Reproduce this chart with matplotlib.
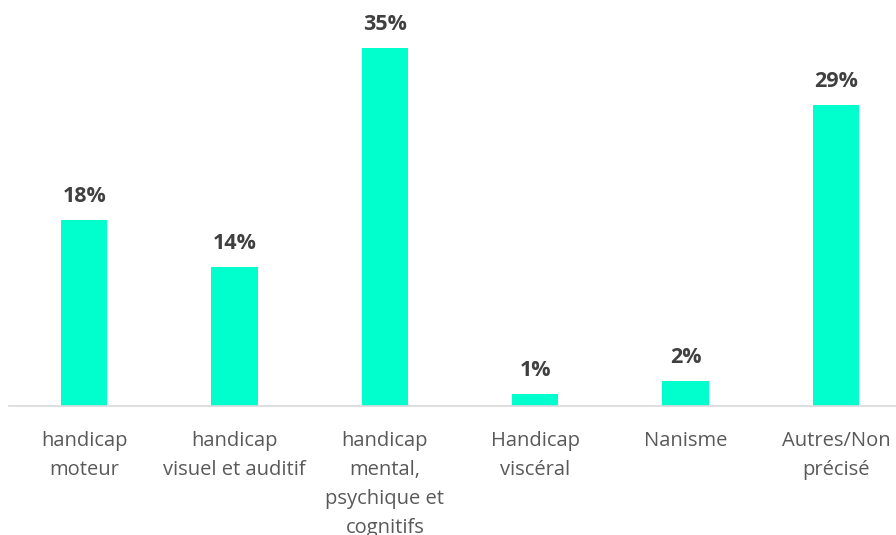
import numpy as np
import matplotlib.pyplot as plt

categories = ['handicap\nmoteur', 'handicap\nvisuel et auditif',
              'handicap\nmental,\npsychique et\ncognitifs', 'Handicap\nviscéral',
              'Nanisme', 'Autres/Non\nprécisé']
values = [18.2, 13.6, 35.0, 1.2, 2.4, 29.4]
labels = ['18%', '14%', '35%', '1%', '2%', '29%']

plt.rcParams['font.family'] = ['Open Sans', 'DejaVu Sans']

fig = plt.figure(figsize=(8.96, 5.35), dpi=100)
# chart area runs a bit past the right edge, as in the original
ax = fig.add_axes([9 / 896, 1 - 406 / 535, 902 / 896, 406 / 535])

xs = np.arange(len(categories))
bars = ax.bar(xs, values, width=0.31, color='#00FFCC', zorder=2)

for b, lab in zip(bars, labels):
    ax.annotate(lab, (b.get_x() + b.get_width() / 2, b.get_height()),
                xytext=(0, 9.5), textcoords='offset points',
                ha='center', va='bottom', fontsize=15.5,
                fontweight='bold', color='#404040')

ax.set_xlim(-0.5, len(categories) - 0.5)
ax.set_ylim(0, 39.7)
ax.set_yticks([])
ax.set_xticks(xs)
ax.set_xticklabels(categories, fontsize=14.5, color='#595959', linespacing=1.6)
ax.tick_params(axis='x', length=0, pad=18)

for s in ['top', 'right', 'left']:
    ax.spines[s].set_visible(False)
ax.spines['bottom'].set_color('#D9D9D9')
ax.spines['bottom'].set_linewidth(1.2)

fig.savefig('out.png', dpi=100)
